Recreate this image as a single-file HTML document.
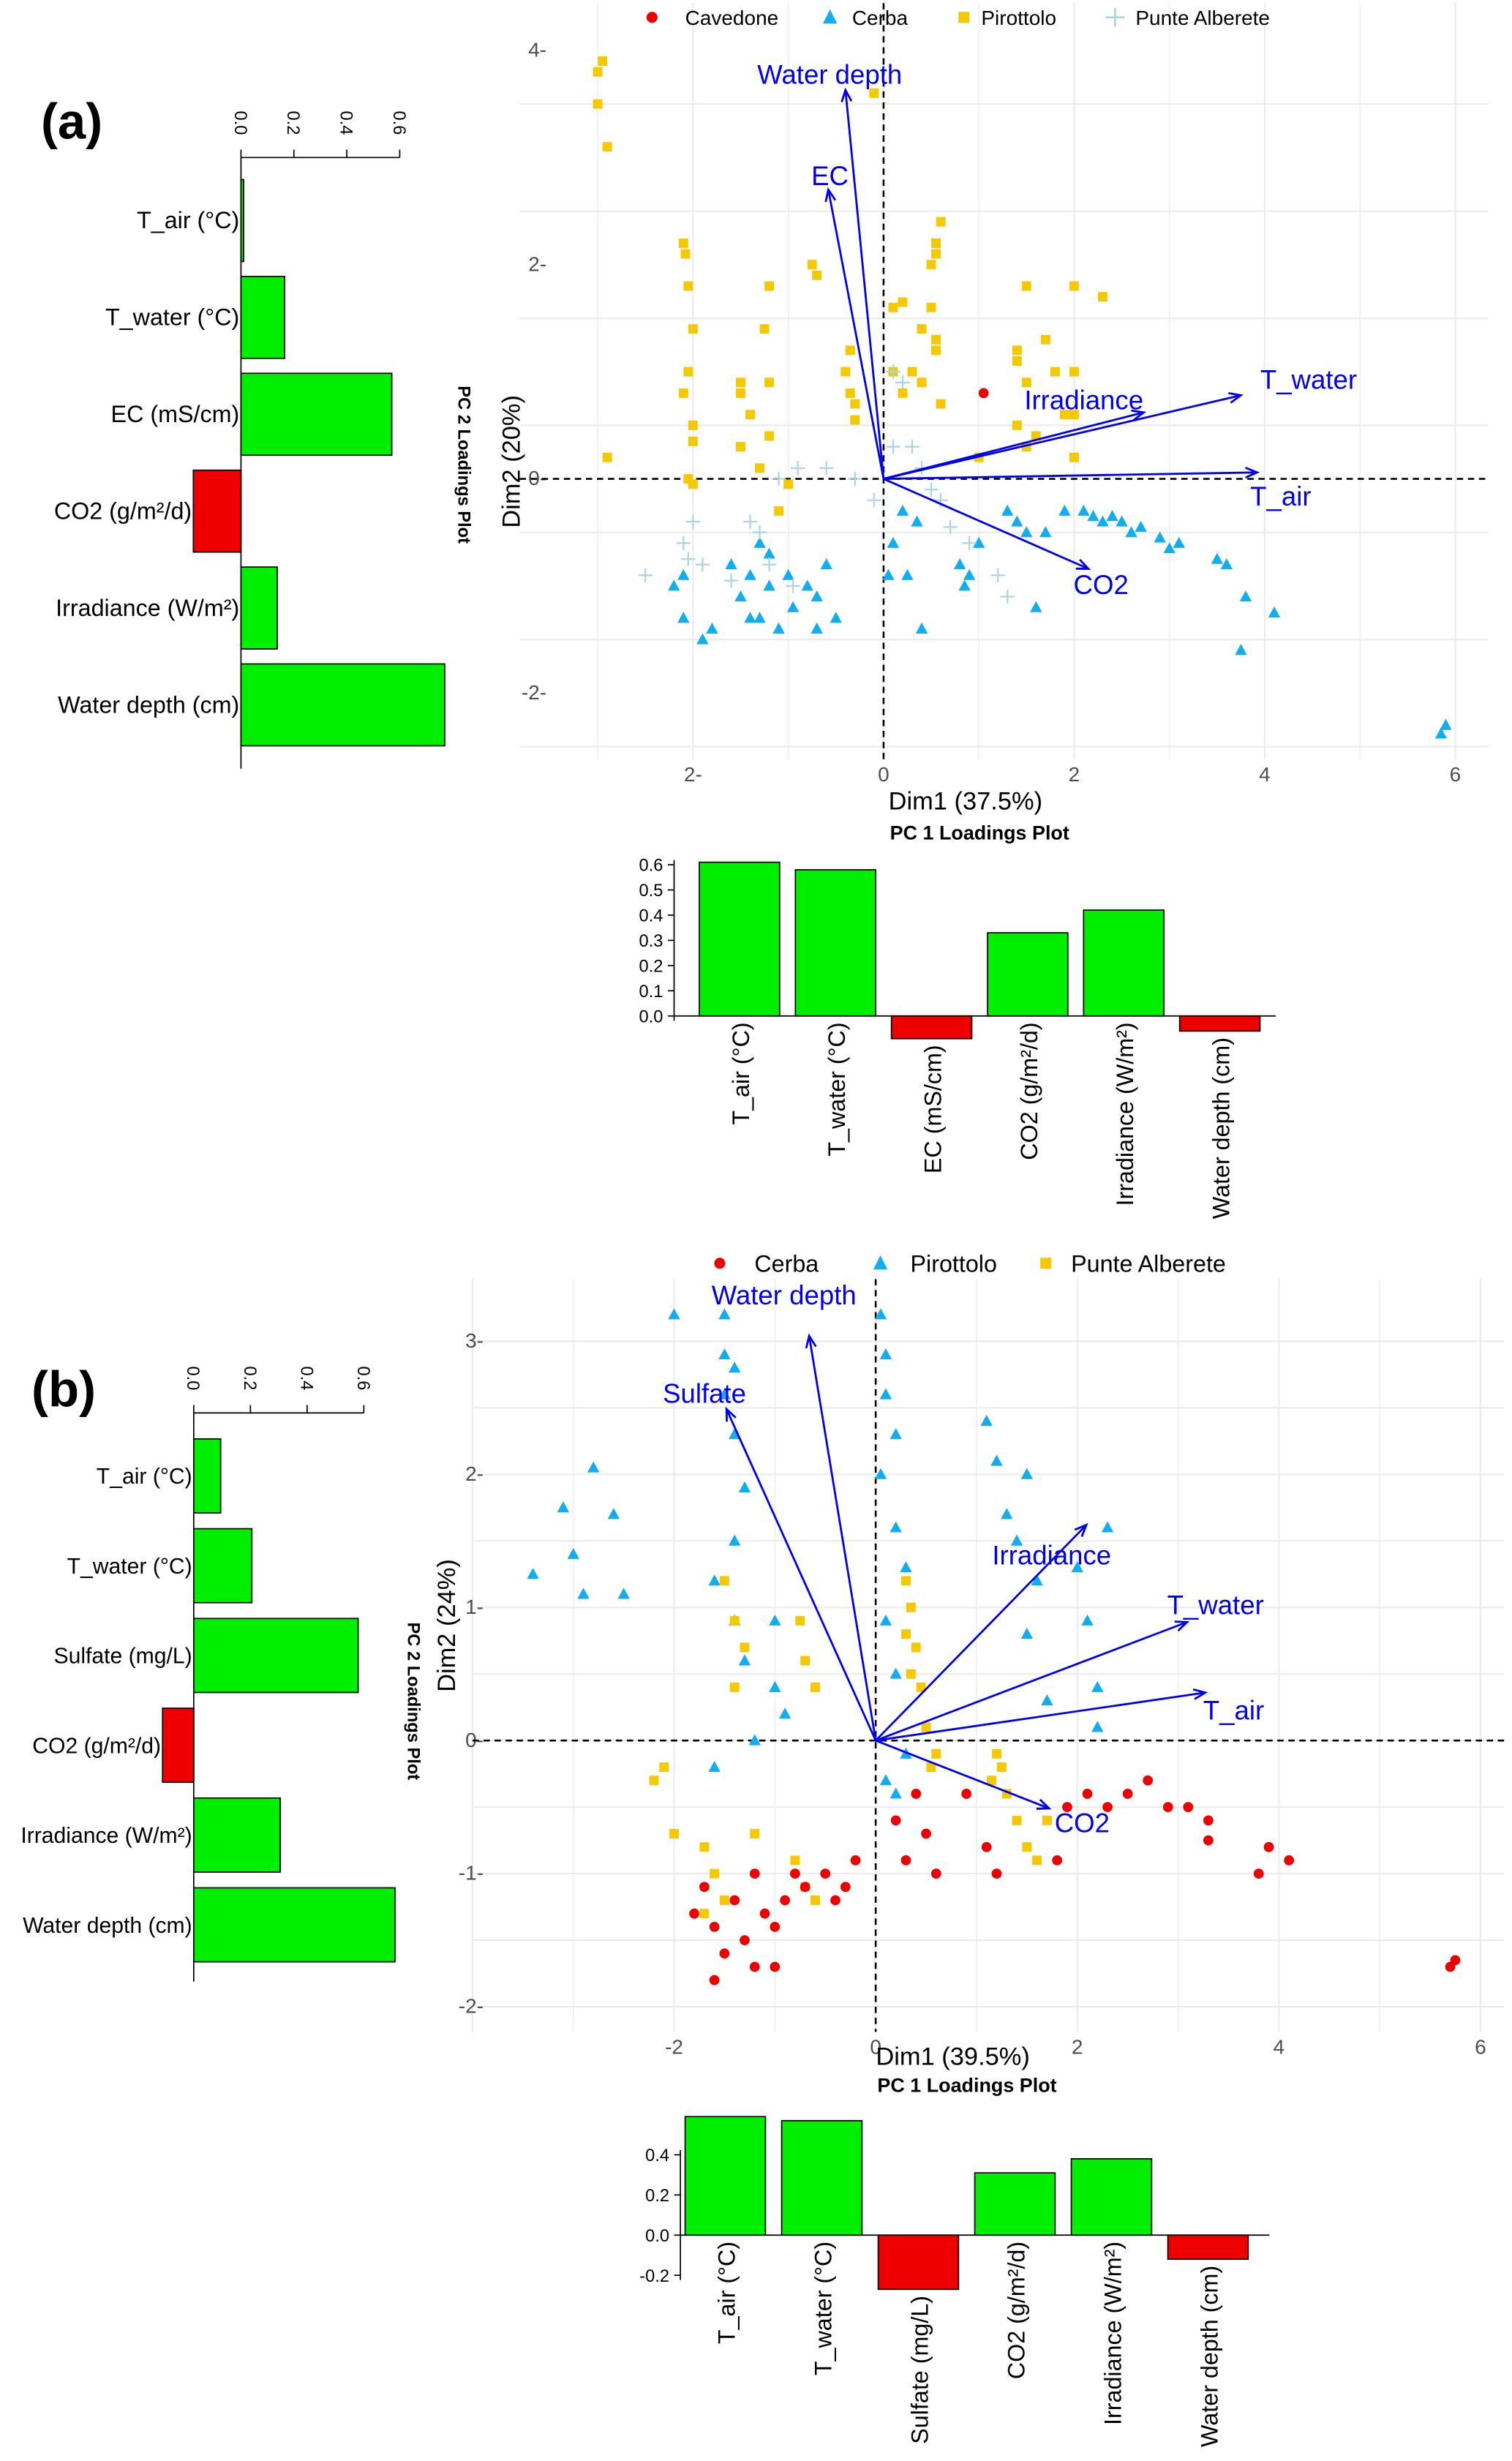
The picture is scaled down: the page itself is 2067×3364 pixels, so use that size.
<!DOCTYPE html>
<html><head><meta charset="utf-8"><style>
html,body{margin:0;padding:0;background:#fff;}
svg{display:block;font-family:"Liberation Sans",Arial,sans-serif;}
</style></head><body>
<svg id="fig" width="2067" height="3364" viewBox="0 0 960 1562.4" xmlns="http://www.w3.org/2000/svg"></svg>
<script>
// ---------- DATA ----------
const loadNames = ["T_air (°C)","T_water (°C)","EC (mS/cm)","CO2 (g/m²/d)","Irradiance (W/m²)","Water depth (cm)"];
const pc2LoadA = [0.01,0.165,0.57,-0.18,0.137,0.77];
const pc1LoadA = [0.61,0.58,-0.09,0.33,0.42,-0.06];
const loadNamesB = ["T_air (°C)","T_water (°C)","Sulfate (mg/L)","CO2 (g/m²/d)","Irradiance (W/m²)","Water depth (cm)"];
const pc2LoadB = [0.095,0.205,0.58,-0.11,0.305,0.71];
const pc1LoadB = [0.59,0.57,-0.27,0.31,0.38,-0.12];
const ticksTopA = [0,0.2,0.4,0.6];
const ticksBotA = [0,0.1,0.2,0.3,0.4,0.5,0.6];
const ticksBotB = [-0.2,0,0.2,0.4];

const arrowNamesA = ["Water depth","EC","Irradiance","T_water","T_air","CO2"];
const arrowXA = [-0.4,-0.58,2.73,3.75,3.92,2.15];
const arrowYA = [3.63,2.7,0.62,0.78,0.06,-0.84];
const arrowNamesB = ["Water depth","Sulfate","Irradiance","T_water","T_air","CO2"];
const arrowXB = [-0.66,-1.48,2.09,3.09,3.27,1.72];
const arrowYB = [3.04,2.49,1.62,0.89,0.36,-0.51];

const aPirottolo = [[-3,3.8],[-2.95,3.9],[-3,3.5],[-2.9,3.1],[-2.1,2.2],[-2.08,2.1],[-2.05,1.8],[-2.0,1.4],[-2.05,1.0],[-2.1,0.8],[-2.0,0.5],[-2.0,0.35],[-2.05,0.0],[-2.0,-0.05],[-1.5,0.9],[-1.5,0.8],[-1.4,0.6],[-1.5,0.3],[-1.3,0.1],[-1.2,1.8],[-1.25,1.4],[-1.2,0.9],[-1.2,0.4],[-1.1,-0.3],[-1.0,-0.05],[-0.75,2.0],[-0.7,1.9],[-0.4,1.0],[-0.35,0.8],[-0.3,0.7],[-0.3,0.55],[-0.35,1.2],[0.1,1.6],[0.2,1.65],[0.1,1.0],[0.2,0.8],[0.3,1.0],[0.4,0.9],[0.4,1.4],[0.5,1.6],[0.5,2.0],[0.55,2.1],[0.6,2.4],[0.55,2.2],[0.55,1.2],[0.55,1.3],[0.6,0.7],[1.4,1.2],[1.5,1.8],[1.4,1.1],[1.5,0.9],[1.4,0.5],[1.5,0.3],[1.7,1.3],[1.8,1.0],[1.9,0.6],[2.0,1.0],[2.0,0.6],[2.0,1.8],[2.3,1.7],[2.0,0.2],[1.6,0.4],[1.0,0.2],[-0.1,3.6],[-2.9,0.2]];
const aCerba = [[-2.2,-1.0],[-2.1,-0.9],[-2.1,-1.3],[-1.9,-1.5],[-1.8,-1.4],[-1.6,-0.8],[-1.5,-1.1],[-1.4,-0.9],[-1.3,-1.3],[-1.2,-0.7],[-1.1,-1.4],[-1.0,-0.9],[-0.95,-1.2],[-0.8,-1.0],[-0.7,-1.1],[-0.6,-0.8],[-0.5,-1.3],[-1.4,-1.3],[-1.3,-0.6],[0.1,-0.6],[0.2,-0.3],[0.25,-0.9],[0.4,-1.4],[0.35,-0.4],[0.8,-0.8],[0.85,-1.0],[0.9,-0.9],[1.0,-0.6],[1.3,-0.3],[1.4,-0.4],[1.5,-0.5],[1.7,-0.5],[1.9,-0.3],[2.1,-0.3],[2.2,-0.35],[2.3,-0.4],[2.4,-0.35],[2.5,-0.4],[2.6,-0.5],[2.7,-0.45],[2.9,-0.55],[3.0,-0.65],[3.1,-0.6],[3.5,-0.75],[3.6,-0.8],[3.8,-1.1],[4.1,-1.25],[3.75,-1.6],[5.9,-2.3],[5.85,-2.38],[1.6,-1.2],[0.05,-0.9],[-0.7,-1.4],[-1.2,-1.0]];
const aPunte = [[-2.5,-0.9],[-2.1,-0.6],[-2.0,-0.4],[-2.05,-0.75],[-1.9,-0.8],[-1.6,-0.95],[-1.3,-0.5],[-1.2,-0.8],[-1.1,0.0],[-0.9,0.1],[-0.6,0.1],[-0.3,0.0],[0.1,1.0],[0.2,0.9],[0.3,0.3],[0.5,-0.1],[0.6,-0.2],[0.7,-0.45],[0.9,-0.6],[1.2,-0.9],[1.3,-1.1],[0.1,0.3],[-0.1,-0.2],[0.4,0.1],[-0.95,-1.0],[-1.4,-0.4]];
const aCavedone = [[1.05,0.8]];

const bCerba = [[-1.8,-1.3],[-1.7,-1.1],[-1.6,-1.8],[-1.5,-1.6],[-1.4,-1.2],[-1.2,-1.0],[-1.1,-1.3],[-1.0,-1.4],[-1.0,-1.7],[-0.9,-1.2],[-0.8,-1.0],[-0.7,-1.1],[-0.5,-1.0],[-0.4,-1.2],[-0.3,-1.1],[0.4,-0.4],[0.5,-0.7],[0.6,-1.0],[0.3,-0.9],[0.2,-0.6],[1.1,-0.8],[1.2,-1.0],[1.8,-0.9],[1.9,-0.5],[2.1,-0.4],[2.3,-0.5],[2.5,-0.4],[2.7,-0.3],[2.9,-0.5],[3.1,-0.5],[3.3,-0.6],[3.3,-0.75],[3.8,-1.0],[3.9,-0.8],[4.1,-0.9],[5.7,-1.7],[5.75,-1.65],[-1.3,-1.5],[-1.2,-1.7],[0.9,-0.4],[-1.6,-1.4],[-0.2,-0.9]];
const bPirottolo = [[-3.4,1.25],[-3.1,1.75],[-3.0,1.4],[-2.9,1.1],[-2.8,2.05],[-2.6,1.7],[-2.5,1.1],[-2.0,3.2],[-1.5,3.2],[-1.5,2.9],[-1.4,2.8],[-1.5,2.6],[-1.4,2.3],[-1.3,1.9],[-1.4,1.5],[-1.6,1.2],[-1.4,0.9],[-1.3,0.6],[-1.0,0.9],[-1.0,0.4],[-0.9,0.2],[-1.6,-0.2],[-1.2,0.0],[0.05,3.2],[0.1,2.9],[0.1,2.6],[0.2,2.3],[0.05,2.0],[0.2,1.6],[0.3,1.3],[0.1,0.9],[0.2,0.5],[0.3,-0.1],[0.1,-0.3],[0.2,-0.4],[1.1,2.4],[1.2,2.1],[1.3,1.7],[1.4,1.5],[1.5,2.0],[1.6,1.2],[1.5,0.8],[2.0,1.3],[2.1,0.9],[2.3,1.6],[2.2,0.4],[2.2,0.1],[1.7,0.3]];
const bPunte = [[-2.2,-0.3],[-2.1,-0.2],[-2.0,-0.7],[-1.7,-0.8],[-1.6,-1.0],[-1.7,-1.3],[-1.5,-1.2],[-1.5,1.2],[-1.4,0.9],[-1.3,0.7],[-1.4,0.4],[-1.2,-0.7],[-0.8,-0.9],[-0.7,-1.1],[-0.75,0.9],[-0.7,0.6],[-0.6,0.4],[0.3,1.2],[0.35,1.0],[0.4,0.7],[0.45,0.4],[0.5,0.1],[0.55,-0.2],[0.3,0.8],[0.6,-0.1],[1.2,-0.1],[1.3,-0.4],[1.4,-0.6],[1.5,-0.8],[1.6,-0.9],[1.7,-0.6],[1.25,-0.2],[-0.6,-1.2],[0.35,0.5],[1.15,-0.3]];

// ---------- helpers ----------
const NS="http://www.w3.org/2000/svg";
const svg=document.getElementById('fig');
function mk(tag,attrs,parent,txt){const e=document.createElementNS(NS,tag);for(const k in attrs)e.setAttribute(k,attrs[k]);if(txt!==undefined)e.textContent=txt;(parent||svg).appendChild(e);return e;}
function fmt(v){return v.toFixed(1);}

// ---------- scatter panels ----------
function scatter(cfg){
  const g=mk('g',{});
  
  
  const X=v=>cfg.x0+v*cfg.sx, Y=v=>cfg.y0-v*cfg.sy;
  for(let v=cfg.xmin;v<=cfg.xmax+1e-9;v+=1){mk('line',{x1:X(v),x2:X(v),y1:cfg.top,y2:cfg.bot,stroke:'#ebebeb','stroke-width':v%2===0?1:0.6},g);}
  for(let v=cfg.ymin;v<=cfg.ymax+1e-9;v+=cfg.ystep/2){mk('line',{x1:cfg.left,x2:cfg.right,y1:Y(v),y2:Y(v),stroke:'#ebebeb','stroke-width':1},g);}
  cfg.xt.forEach(v=>{const t=mk('text',{x:X(v),y:cfg.bot+14,'text-anchor':'middle','font-size':13,fill:'#4d4d4d'},g,cfg.xtl?cfg.xtl(v):String(v));
    
    });
  cfg.yt.forEach(v=>{const t=mk('text',{x:cfg.ytx,y:Y(v)+4,'text-anchor':'end','font-size':13,fill:'#4d4d4d'},g,String(v)+'-');
    
    });
  mk('line',{x1:cfg.left,x2:cfg.right,y1:Y(0),y2:Y(0),stroke:'#000','stroke-dasharray':'4,3','stroke-width':1.2},g);
  mk('line',{x1:X(0),x2:X(0),y1:cfg.top,y2:cfg.bot,stroke:'#000','stroke-dasharray':'4,3','stroke-width':1.2},g);
  cfg.groups.forEach(gr=>{
    gr.data.forEach(p=>{
      const cx=X(p[0]),cy=Y(p[1]);let e;
      if(gr.shape==='circle')e=mk('circle',{cx,cy,r:3.2,fill:gr.color},g);
      else if(gr.shape==='square')e=mk('rect',{x:cx-3,y:cy-3,width:6,height:6,fill:gr.color},g);
      else if(gr.shape==='tri')e=mk('path',{d:`M${cx},${cy-4}L${cx+3.8},${cy+3}L${cx-3.8},${cy+3}Z`,fill:gr.color},g);
      else e=mk('path',{d:`M${cx-4.5},${cy}H${cx+4.5}M${cx},${cy-4.5}V${cy+4.5}`,stroke:gr.color,'stroke-width':1},g);
      
      
    });
  });
  cfg.an.forEach((n,i)=>{
    const x2=X(cfg.ax[i]),y2=Y(cfg.ay[i]),x1=X(0),y1=Y(0);
    const ar=mk('line',{x1,y1,x2,y2,stroke:'#0000ee','stroke-width':1.3},g);
    
    
    const ang=Math.atan2(y2-y1,x2-x1),h=8;
    mk('path',{d:`M${x2-h*Math.cos(ang-0.4)},${y2-h*Math.sin(ang-0.4)}L${x2},${y2}L${x2-h*Math.cos(ang+0.4)},${y2-h*Math.sin(ang+0.4)}`,fill:'none',stroke:'#0000ee','stroke-width':1.3},g);
    const o=cfg.lo[i];
    const lt=mk('text',{x:x2+o[0],y:y2+o[1],'text-anchor':'middle','font-size':17,fill:'#0000ee'},g,n);
    
    
  });
}

scatter({name:'pca-biplot-a',x0:561,sx:60.5,y0:304,sy:68,left:330,right:945,top:2,bot:482,xmin:-3,xmax:6,ymin:-2.5,ymax:4,ystep:2,ytx:347,
  xt:[-2,0,2,4,6],yt:[4,2,0,-2],xtl:v=>v<0?'2-':String(v),
  groups:[{data:aPirottolo,shape:'square',color:'#f5c800',pname:'pirottolo-point'},{data:aCerba,shape:'tri',color:'#10aef0',pname:'cerba-point'},{data:aPunte,shape:'plus',color:'#a9d3e8',pname:'punte-alberete-point'},{data:aCavedone,shape:'circle',color:'#ee0000',pname:'cavedone-point'}],
  an:arrowNamesA,ax:arrowXA,ay:arrowYA,lo:[[-10,-4],[1,-3],[-38,-2],[43,-4],[15,21],[8,16]]});

scatter({name:'pca-biplot-b',x0:556,sx:64,y0:1105,sy:84.5,left:300,right:955,top:812,bot:1290,xmin:-4,xmax:6,ymin:-2,ymax:3,ystep:1,ytx:307,
  xt:[-2,0,2,4,6],yt:[3,2,1,0,-1,-2],
  groups:[{data:bPirottolo,shape:'tri',color:'#10aef0',pname:'pirottolo-point'},{data:bPunte,shape:'square',color:'#f5c800',pname:'punte-alberete-point'},{data:bCerba,shape:'circle',color:'#ee0000',pname:'cerba-point'}],
  an:arrowNamesB,ax:arrowXB,ay:arrowYB,lo:[[-16,-20],[-14,-4],[-22,25],[18,-5],[18,17],[21,15]]});

// ---------- legends ----------
function legend(items,y,fs,name){
  const g=mk('g',{});
  
  
  items.forEach(it=>{
    const cx=it[0];
    if(it[1]==='circle')mk('circle',{cx,cy:y,r:3.5,fill:'#ee0000'},g);
    else if(it[1]==='tri')mk('path',{d:`M${cx},${y-5}L${cx+4.5},${y+4}L${cx-4.5},${y+4}Z`,fill:'#10aef0'},g);
    else if(it[1]==='square')mk('rect',{x:cx-3.5,y:y-3.5,width:7,height:7,fill:'#f5c800'},g);
    else mk('path',{d:`M${cx-6},${y}H${cx+6}M${cx},${y-6}V${y+6}`,stroke:'#a9d3e8','stroke-width':1.2},g);
    const t=mk('text',{x:it[2],y:y+fs*0.36,'font-size':fs,fill:'#000'},g,it[3]);
    
    
  });
}
legend([[414,'circle',435,'Cavedone'],[527,'tri',541,'Cerba'],[612,'square',623,'Pirottolo'],[708,'plus',721,'Punte Alberete']],11,13,'legend-a');
legend([[457,'circle',479,'Cerba'],[559,'tri',578,'Pirottolo'],[664,'square',680,'Punte Alberete']],802,15,'legend-b');

// ---------- horizontal bar charts (PC2) ----------
function hbar(cfg){
  const g=mk('g',{});
  
  
  const X=v=>cfg.x0+v*cfg.s;
  mk('line',{x1:cfg.x0,x2:cfg.x0,y1:cfg.top,y2:cfg.bot,stroke:'#000','stroke-width':0.8},g);
  mk('line',{x1:X(0),x2:X(0.6),y1:cfg.top,y2:cfg.top,stroke:'#000','stroke-width':0.8},g);
  ticksTopA.forEach(v=>{mk('line',{x1:X(v),x2:X(v),y1:cfg.top,y2:cfg.top-5,stroke:'#000','stroke-width':0.8},g);
    const t=mk('text',{x:X(v)-4,y:cfg.top-22,'font-size':11,fill:'#000',transform:`rotate(90 ${X(v)-4} ${cfg.top-22})`,'text-anchor':'middle'},g,fmt(v));
    
    });
  cfg.vals.forEach((v,i)=>{
    const cy=cfg.y0+i*cfg.step;
    const r=mk('rect',{x:Math.min(X(0),X(v)),y:cy-cfg.h/2,width:Math.abs(X(v)-X(0)),height:cfg.h,fill:v<0?'#ee0000':'#00ee00',stroke:'#000','stroke-width':0.8},g);
    
    
    const lx=Math.min(X(0),X(v))-1;
    const t=mk('text',{x:lx,y:cy+5,'text-anchor':'end','font-size':cfg.fs,fill:'#000'},g,cfg.names[i]);
    
    
  });
  const tt=mk('text',{x:cfg.tx,y:cfg.ty,'font-size':11,'font-weight':'bold',fill:'#000','text-anchor':'middle',transform:`rotate(90 ${cfg.tx} ${cfg.ty})`},g,'PC 2 Loadings Plot');
  
  
}
hbar({name:'pc2-loadings-a',x0:153,s:168,top:100,bot:488,y0:140,step:61.5,h:52,vals:pc2LoadA,names:loadNames,fs:15,tx:291,ty:295});
hbar({name:'pc2-loadings-b',x0:123,s:180,top:897,bot:1258,y0:937,step:57,h:47,vals:pc2LoadB,names:loadNamesB,fs:14,tx:259,ty:1080});

// ---------- vertical bar charts (PC1) ----------
function vbar(cfg){
  const g=mk('g',{});
  
  
  const Y=v=>cfg.y0-v*cfg.s;
  mk('line',{x1:cfg.ax,x2:cfg.ax,y1:Y(cfg.ticks[cfg.ticks.length-1])-3,y2:Y(cfg.ticks[0])+3,stroke:'#000','stroke-width':0.8},g);
  mk('line',{x1:cfg.ax,x2:cfg.right,y1:Y(0),y2:Y(0),stroke:'#000','stroke-width':0.8},g);
  cfg.ticks.forEach(v=>{mk('line',{x1:cfg.ax-4,x2:cfg.ax,y1:Y(v),y2:Y(v),stroke:'#000','stroke-width':0.8},g);
    const t=mk('text',{x:cfg.ax-7,y:Y(v)+4,'text-anchor':'end','font-size':11,fill:'#000'},g,fmt(v));
    
    });
  cfg.vals.forEach((v,i)=>{
    const x=cfg.x0+i*cfg.step;
    const r=mk('rect',{x,y:Math.min(Y(0),Y(v)),width:cfg.w,height:Math.abs(Y(v)-Y(0)),fill:v<0?'#ee0000':'#00ee00',stroke:'#000','stroke-width':0.8},g);
    
    
    const lx=x+cfg.w/2+6, ly=Math.max(Y(0),Y(v))+4;
    const t=mk('text',{x:lx,y:ly,'text-anchor':'end','font-size':cfg.fs,fill:'#000',transform:`rotate(-90 ${lx} ${ly})`},g,cfg.names[i]);
    
    
  });
}
vbar({name:'pc1-loadings-a',ax:428,right:810,x0:444,step:61,w:51,y0:645,s:160,ticks:ticksBotA,vals:pc1LoadA,names:loadNames,fs:15});
vbar({name:'pc1-loadings-b',ax:432,right:806,x0:435,step:61.3,w:51,y0:1419,s:127.5,ticks:ticksBotB,vals:pc1LoadB,names:loadNamesB,fs:15});

// ---------- titles ----------
function txt(x,y,s,attrs,name){const t=mk('text',Object.assign({x,y,fill:'#000'},attrs),svg,s);return t;}
txt(26,88,'(a)',{'font-size':32,'font-weight':'bold'},'panel-label-a');
txt(20,893,'(b)',{'font-size':32,'font-weight':'bold'},'panel-label-b');
txt(613,514,'Dim1 (37.5%)',{'font-size':16,'text-anchor':'middle'},'x-axis-title-a');
txt(622,533,'PC 1 Loadings Plot',{'font-size':12.5,'font-weight':'bold','text-anchor':'middle'},'pc1-title-a');
txt(330,293,'Dim2 (20%)',{'font-size':16,'text-anchor':'middle',transform:'rotate(-90 330 293)'},'y-axis-title-a');
txt(605,1311,'Dim1 (39.5%)',{'font-size':16,'text-anchor':'middle'},'x-axis-title-b');
txt(614,1328,'PC 1 Loadings Plot',{'font-size':12.5,'font-weight':'bold','text-anchor':'middle'},'pc1-title-b');
txt(289,1032,'Dim2 (24%)',{'font-size':16,'text-anchor':'middle',transform:'rotate(-90 289 1032)'},'y-axis-title-b');
</script>
</body></html>
